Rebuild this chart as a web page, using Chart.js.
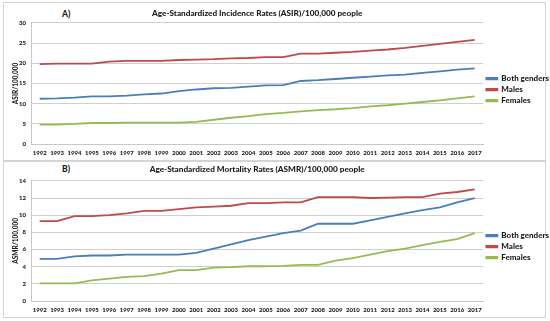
<!DOCTYPE html>
<html>
<head>
<meta charset="utf-8">
<script src="https://cdn.jsdelivr.net/npm/chart.js@4/dist/chart.umd.min.js"></script>
<style>
  body { margin: 0; background: #fff; width: 550px; height: 321px; position: relative; overflow: hidden; font-family: Lato, "Liberation Sans", sans-serif; }
  .panel { position: absolute; left: 3px; width: 541px; border: 1px solid #d4d4d4; }
  .tag { position: absolute; font-weight: 900; font-size: 8.5px; color: #1a1a1a; }
  canvas { position: absolute; }
</style>
</head>
<body>
<div class="panel" style="top:2px;height:157px;"></div>
<div class="panel" style="top:161px;height:155px;"></div>
<div class="tag" style="left:62px;top:9px;">A)</div>
<div class="tag" style="left:62px;top:164px;">B)</div>
<!-- canvases run a little past the window edge, the legend box needs that room -->
<div style="position:absolute;left:4px;top:3px;width:555px;height:156px;"><canvas id="asirchart"></canvas></div>
<div style="position:absolute;left:4px;top:162px;width:555px;height:154px;"><canvas id="asmrchart"></canvas></div>
<script>
var years = ["1992","1993","1994","1995","1996","1997","1998","1999","2000","2001","2002","2003","2004","2005","2006","2007","2008","2009","2010","2011","2012","2013","2014","2015","2016","2017"];
var seriesNames = ["Both genders", "Males", "Females"];

// incidence (top chart)
var asirBoth = [11.2, 11.3, 11.5, 11.8, 11.8, 12.0, 12.3, 12.5, 13.1, 13.5, 13.8, 13.9, 14.2, 14.5, 14.6, 15.6, 15.8, 16.1, 16.4, 16.7, 17.0, 17.2, 17.6, 18.0, 18.4, 18.7];
var asirMales = [19.8, 19.9, 19.9, 19.9, 20.4, 20.6, 20.6, 20.6, 20.8, 20.9, 21.0, 21.2, 21.3, 21.5, 21.5, 22.4, 22.4, 22.6, 22.8, 23.1, 23.4, 23.8, 24.3, 24.8, 25.3, 25.8];
var asirFemales = [4.8, 4.8, 5.0, 5.2, 5.2, 5.3, 5.3, 5.3, 5.3, 5.5, 6.0, 6.5, 6.9, 7.4, 7.7, 8.1, 8.4, 8.6, 8.9, 9.3, 9.6, 10.0, 10.4, 10.8, 11.3, 11.8];

// mortality (bottom chart)
var asmrBoth = [4.9, 4.9, 5.2, 5.3, 5.3, 5.4, 5.4, 5.4, 5.4, 5.6, 6.1, 6.6, 7.1, 7.5, 7.9, 8.2, 9.0, 9.0, 9.0, 9.4, 9.8, 10.2, 10.6, 10.9, 11.5, 12.0];
var asmrMales = [9.3, 9.3, 9.9, 9.9, 10.0, 10.2, 10.5, 10.5, 10.7, 10.9, 11.0, 11.1, 11.4, 11.4, 11.5, 11.5, 12.1, 12.1, 12.1, 12.0, 12.05, 12.1, 12.1, 12.5, 12.7, 13.0];
var asmrFemales = [2.05, 2.05, 2.05, 2.4, 2.6, 2.8, 2.9, 3.2, 3.6, 3.6, 3.9, 3.95, 4.05, 4.05, 4.1, 4.2, 4.2, 4.7, 5.0, 5.4, 5.8, 6.1, 6.5, 6.9, 7.2, 7.9];

var asirTicks = {min: 0, max: 30, step: 5};
var asmrTicks = {min: 0, max: 14, step: 2};

var colours = ["#4a7ebb", "#be4b48", "#98b954"];
var fontFamily = "Lato, 'Liberation Sans', sans-serif";

function makeDatasets(lists) {
    var sets = [];
    for (var i = 0; i < lists.length; i++) {
        sets.push({
            label: seriesNames[i],
            data: lists[i],
            borderColor: colours[i],
            backgroundColor: colours[i],
            borderWidth: 1.8,
            pointRadius: 0,
            tension: 0
        });
    }
    return sets;
}

function lineChartOptions(title, yTitle, ticks, titlePad, legendShift) {
    return {
        responsive: true,
        maintainAspectRatio: false,
        animation: false,
        layout: { padding: 0 },
        plugins: {
            tooltip: { enabled: false },
            title: {
                display: true,
                text: title,
                fullSize: false,
                color: "#1a1a1a",
                font: { family: fontFamily, size: 8.2, weight: 900, lineHeight: 1.2 },
                padding: titlePad
            },
            legend: {
                position: "right",
                // empty legend title only pushes the entries down a little
                title: { display: true, text: "", font: { size: 1 }, padding: { top: legendShift, bottom: 0 } },
                labels: {
                    boxWidth: 11,
                    boxHeight: 1.5,
                    padding: 3,
                    color: "#1a1a1a",
                    font: { family: fontFamily, size: 8, weight: 900 }
                }
            }
        },
        scales: {
            x: {
                offset: true,
                grid: { display: false, drawTicks: false },
                border: { display: true, color: "#c8c8c8" },
                ticks: {
                    autoSkip: false,
                    maxRotation: 0,
                    padding: 5,
                    color: "#1a1a1a",
                    font: { family: fontFamily, size: 6, weight: 900 }
                },
                afterFit: function (scale) { scale.height = 15; }
            },
            y: {
                min: ticks.min,
                max: ticks.max,
                grid: { color: "#cfcfcf", drawTicks: false },
                border: { display: true, color: "#c8c8c8" },
                ticks: {
                    stepSize: ticks.step,
                    padding: 5,
                    color: "#1a1a1a",
                    font: { family: fontFamily, size: 6, weight: 900 }
                },
                title: {
                    display: true,
                    text: yTitle,
                    color: "#1a1a1a",
                    font: { family: fontFamily, size: 6.5, weight: 900, lineHeight: 1.2 },
                    padding: { top: 8, bottom: 0 }
                },
                afterFit: function (scale) { scale.width = 27; }
            }
        }
    };
}

new Chart(document.getElementById("asirchart").getContext("2d"), {
    type: "line",
    data: { labels: years, datasets: makeDatasets([asirBoth, asirMales, asirFemales]) },
    options: lineChartOptions("Age-Standardized Incidence Rates (ASIR)/100,000 people", "ASIR/100,000", asirTicks, { top: 5, bottom: 5 }, 16)
});

new Chart(document.getElementById("asmrchart").getContext("2d"), {
    type: "line",
    data: { labels: years, datasets: makeDatasets([asmrBoth, asmrMales, asmrFemales]) },
    options: lineChartOptions("Age-Standardized Mortality Rates (ASMR)/100,000 people", "ASMR/100,000", asmrTicks, { top: 2, bottom: 7 }, 14)
});
</script>
</body>
</html>
